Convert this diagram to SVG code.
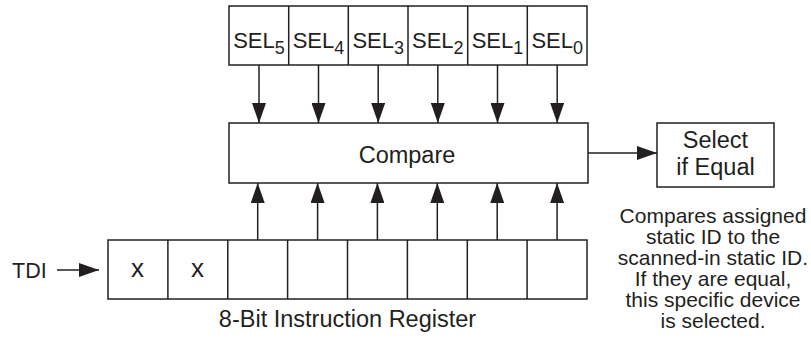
<svg xmlns="http://www.w3.org/2000/svg" width="811" height="348" viewBox="0 0 811 348">
<defs>
<style>
.box{fill:#fff;stroke:#231f20;stroke-width:1.5}
.ln{fill:none;stroke:#231f20;stroke-width:1.5}
text{font-family:"Liberation Sans",Arial,Helvetica,sans-serif;fill:#231f20}
.sel{font-size:22px;text-anchor:middle}
.sub{font-size:18px}
.mid{text-anchor:middle}
.big{font-size:23.5px}
.note{font-size:21px;text-anchor:middle}
</style>
<marker id="ah" markerUnits="userSpaceOnUse" markerWidth="20" markerHeight="14" refX="20" refY="7" orient="auto" viewBox="0 0 20 14">
<path d="M0,0 L20,7 L0,14 z" fill="#231f20"/>
</marker>
</defs>
<rect width="811" height="348" fill="#fff"/>

<g id="sel-register">
<rect class="box" x="229" y="6" width="358" height="59"/>
<path class="ln" d="M288.7,6V65M348.3,6V65M408,6V65M467.7,6V65M527.3,6V65"/>
<text class="sel" x="259" y="48">SEL<tspan class="sub" dy="5.5">5</tspan></text>
<text class="sel" x="318.5" y="48">SEL<tspan class="sub" dy="5.5">4</tspan></text>
<text class="sel" x="378.2" y="48">SEL<tspan class="sub" dy="5.5">3</tspan></text>
<text class="sel" x="437.8" y="48">SEL<tspan class="sub" dy="5.5">2</tspan></text>
<text class="sel" x="497.5" y="48">SEL<tspan class="sub" dy="5.5">1</tspan></text>
<text class="sel" x="557.2" y="48">SEL<tspan class="sub" dy="5.5">0</tspan></text>
</g>

<g id="compare">
<rect class="box" x="229" y="123" width="359" height="60"/>
<text class="mid big" x="407" y="162.5">Compare</text>
</g>

<g id="select">
<rect class="box" x="657" y="123" width="117" height="64"/>
<text class="mid big" x="715.5" y="148">Select</text>
<text class="mid big" x="715.5" y="175">if Equal</text>
</g>

<g id="instruction-register">
<rect class="box" x="108" y="240" width="479" height="59"/>
<path class="ln" d="M167.9,240V299M227.8,240V299M287.6,240V299M347.5,240V299M407.4,240V299M467.3,240V299M527.1,240V299"/>
<text class="mid" font-size="26" x="137.5" y="277">x</text>
<text class="mid" font-size="26" x="197.5" y="277">x</text>
<text class="mid big" x="347.5" y="327">8-Bit Instruction Register</text>
</g>

<g id="tdi">
<text font-size="21.5" x="12" y="278">TDI</text>
</g>

<g id="note">
<text class="note" x="713" y="223">Compares assigned</text>
<text class="note" x="713" y="244">static ID to the</text>
<text class="note" x="713" y="265">scanned-in static ID.</text>
<text class="note" x="713" y="286">If they are equal,</text>
<text class="note" x="713" y="307">this specific device</text>
<text class="note" x="713" y="328">is selected.</text>
</g>

<g id="connectors">
<path class="ln" marker-end="url(#ah)" d="M259,65V123"/>
<path class="ln" marker-end="url(#ah)" d="M318.5,65V123"/>
<path class="ln" marker-end="url(#ah)" d="M378.2,65V123"/>
<path class="ln" marker-end="url(#ah)" d="M437.8,65V123"/>
<path class="ln" marker-end="url(#ah)" d="M497.5,65V123"/>
<path class="ln" marker-end="url(#ah)" d="M557.2,65V123"/>
<path class="ln" marker-end="url(#ah)" d="M257.7,240V183"/>
<path class="ln" marker-end="url(#ah)" d="M317.6,240V183"/>
<path class="ln" marker-end="url(#ah)" d="M377.4,240V183"/>
<path class="ln" marker-end="url(#ah)" d="M437.3,240V183"/>
<path class="ln" marker-end="url(#ah)" d="M497.2,240V183"/>
<path class="ln" marker-end="url(#ah)" d="M557.1,240V183"/>
<path class="ln" marker-end="url(#ah)" d="M588,153H657"/>
<path class="ln" marker-end="url(#ah)" d="M57,270H99"/>
</g>
</svg>
